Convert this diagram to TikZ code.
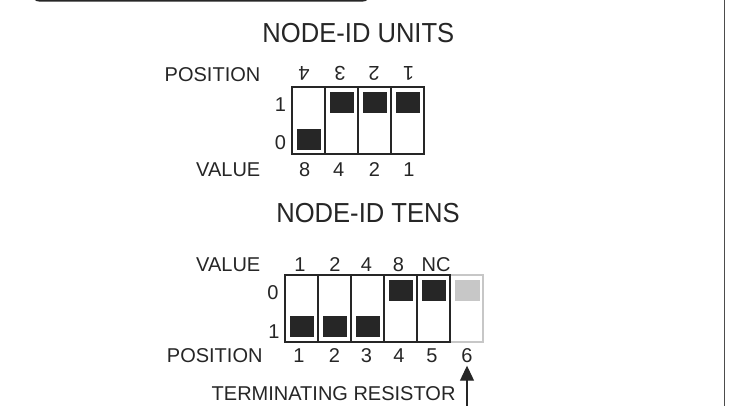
\documentclass[tikz,border=0pt]{standalone}
\usepackage{fontspec}
\setmainfont{Liberation Sans}
\usetikzlibrary{arrows.meta}
\begin{document}
\begin{tikzpicture}[x=1pt,y=-1pt,
  lbl/.style={font=\fontsize{20}{24}\selectfont, inner sep=0pt, text height=14.4pt, text depth=0pt, text=black!85},
  ttl/.style={font=\fontsize{27.5}{32}\selectfont, inner sep=0pt, text height=19.7pt, text depth=0pt, xscale=0.93, text=black!85},
  swbox/.style={line width=1.6pt, draw=black!85},
  ghostbox/.style={line width=1.6pt, draw=black!22},
  knob/.style={fill=black!85},
  ghostknob/.style={fill=black!22},
  frame/.style={line width=1.6pt, draw=black!85},
  arr/.style={line width=1.2pt, draw=black!85, -{Triangle[length=15pt,width=14pt]}}
]
\useasboundingbox (0,0) rectangle (731,405);
\fill[white] (0,0) rectangle (731,405);

% frame pieces
\draw[frame, rounded corners=6pt] (33,-30) rectangle (369,0.7);
\draw[line width=1.4pt, draw=black!70] (724.7,-2) -- (724.7,407);

% ===== NODE-ID UNITS =====
\node[ttl] (tunits) at (358.4,32.7) {NODE-ID UNITS};

\node[lbl, anchor=east] (upos) at (260.5,74) {POSITION};
\node[lbl, rotate=180] (up4) at (304,74) {4};
\node[lbl, rotate=180] (up3) at (340,74) {3};
\node[lbl, rotate=180] (up2) at (374,74) {2};
\node[lbl, rotate=180] (up1) at (408.5,74) {1};

\node[lbl] (uone) at (280.5,104) {1};
\node[lbl] (uzero) at (280.5,142.5) {0};

\node[lbl, anchor=east] (uval) at (260.5,169) {VALUE};
\node[lbl] (uv8) at (304.7,169) {8};
\node[lbl] (uv4) at (338.7,169) {4};
\node[lbl] (uv2) at (374.5,169) {2};
\node[lbl] (uv1) at (409,169) {1};

% knobs (units)
\fill[knob] (296.5,129) rectangle (320.5,149.5);
\fill[knob] (329.5,92) rectangle (353.5,113);
\fill[knob] (362.5,92) rectangle (386.5,113);
\fill[knob] (395.5,92) rectangle (419.5,113);
% box (units)
\draw[swbox] (292,87) rectangle (424,154);
\draw[swbox] (325,87) -- (325,154);
\draw[swbox] (358,87) -- (358,154);
\draw[swbox] (391,87) -- (391,154);

% ===== NODE-ID TENS =====
\node[ttl] (ttens) at (368,212.7) {NODE-ID TENS};

\node[lbl, anchor=east] (tval) at (260.5,264) {VALUE};
\node[lbl] (tv1) at (300,264) {1};
\node[lbl] (tv2) at (335,264) {2};
\node[lbl] (tv4) at (366.5,264) {4};
\node[lbl] (tv8) at (398.5,264) {8};
\node[lbl] (tvnc) at (436,264) {NC};

\node[lbl] (tzero) at (273,292) {0};
\node[lbl] (tone) at (274,331.5) {1};

\node[lbl, anchor=east] (tpos) at (262.7,355) {POSITION};
\node[lbl] (p1) at (299,355) {1};
\node[lbl] (p2) at (334.5,355) {2};
\node[lbl] (p3) at (366.5,355) {3};
\node[lbl] (p4) at (399,355) {4};
\node[lbl] (p5) at (432,355) {5};
\node[lbl] (p6) at (467,355) {6};

% knobs (tens)
\fill[knob] (290,316) rectangle (314,337);
\fill[knob] (323,316) rectangle (347,337);
\fill[knob] (356,316) rectangle (380,337);
\fill[knob] (389,280) rectangle (413,301);
\fill[knob] (422,280) rectangle (446,301);
\fill[ghostknob] (454.5,280) rectangle (479.5,301);
% boxes (tens)
\draw[ghostbox] (450,275) rectangle (483,341.7);
\draw[swbox] (285,275) rectangle (450,341.7);
\draw[swbox] (318,275) -- (318,341.7);
\draw[swbox] (351,275) -- (351,341.7);
\draw[swbox] (384,275) -- (384,341.7);
\draw[swbox] (417,275) -- (417,341.7);

% terminating resistor
\node[lbl, anchor=west] (term) at (211.5,393) {TERMINATING RESISTOR};
\coordinate (termend) at (467,412);
\draw[arr, shorten >=3.3pt] (termend) -- (p6.south);

\end{tikzpicture}
\end{document}
